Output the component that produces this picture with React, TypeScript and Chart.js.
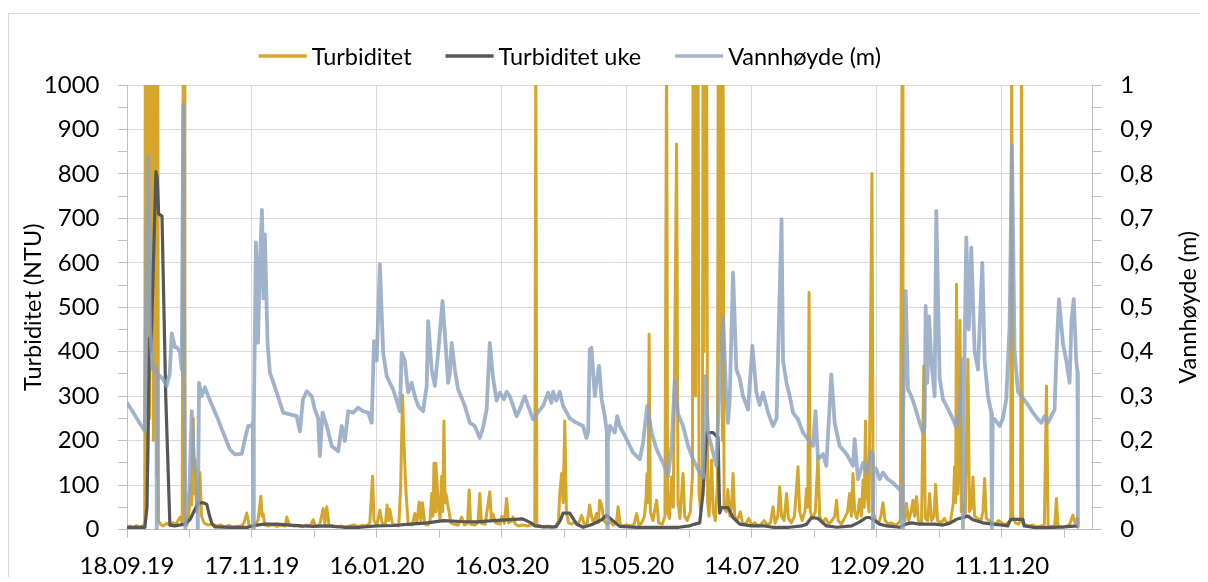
import { useEffect, useRef } from 'react';
import { Chart, registerables } from 'chart.js';
Chart.register(...registerables);

// x = days since 18.09.19
const xTickLabels = ['18.09.19', '17.11.19', '16.01.20', '16.03.20', '15.05.20', '14.07.20', '12.09.20', '11.11.20'];
const X_MAX = 463.7;

const seriesLabels = ['Turbiditet', 'Turbiditet uke', 'Vannhøyde (m)'];
const leftTitle = 'Turbiditet (NTU)';
const rightTitle = 'Vannhøyde (m)';

const turbiditet: [number, number][] = [
  [0,5],[1.5,8],[3,4],[4.5,9],[6,5],[7.5,8],[8.5,12],
  [8.8,1100],[9.1,500],[9.4,1100],[9.7,150],[10,1100],[10.3,650],[10.6,1100],[10.9,250],[11.2,1100],[11.5,450],[11.8,1100],[12.1,800],[12.4,1100],[12.7,200],[13,1100],[13.3,600],[13.6,1100],[13.9,350],[14.2,1100],[14.5,120],[14.8,1100],[15.1,20],
  [16,12],[17.5,8],[19,14],[20.5,10],[22,15],[23.5,12],[24.5,20],[25.5,28],[26.5,14],
  [27,1100],[27.4,1100],[27.8,25],
  [28.8,10],[29.8,40],[30.6,100],[31.1,55],[31.8,250],[32.3,80],[32.7,158],[33.4,40],[34.1,60],[35,128],[35.8,30],[37,15],[39,10],[41,12],[43,8],[45,10],[47,6],[49,9],[51,5],[53,7],[55,8],[56.2,15],[57.5,37],[58.6,10],[60,8],[61.5,12],[62.9,20],[64.3,75],[64.8,30],[65.4,35],[66.2,10],[68,8],[70,11],[72,7],[74,10],[76,8],[76.7,28],[78,10],[80,8],[82,9],[84,6],[86,10],[88,8],[89.4,22],[90.5,8],[92.5,10],[94.2,47],[95,12],[95.9,51],[97,10],[99,8],[101,6],[103,8],[105,5],[107,8],[109,10],[111,7],[113,9],[115,8],[116.6,15],[117.9,120],[118.6,20],[120,10],[121.4,44],[122.5,15],[124,10],[124.9,55],[125.6,20],[126.2,45],[127.5,12],[129,10],[130.5,8],[131.4,96],[132.3,302],[133,195],[133.9,89],[135,12],[137,10],[138.2,36],[139.2,15],[140.3,62],[141.1,20],[141.9,60],[143,12],[144.5,10],[145.5,20],[146.3,81],[146.9,30],[147.4,149],[147.9,40],[148.3,149],[149.4,66],[150.3,20],[151.1,120],[151.6,40],[152.2,244],[152.7,60],[153.1,81],[154.2,51],[155.5,15],[157,12],[159,10],[160.7,28],[162,10],[163.5,14],[164.3,89],[165,12],[167,10],[168.5,15],[169.4,81],[170.2,14],[172,12],[174.2,85],[175,20],[175.7,35],[177,15],[179,12],[180,30],[181.2,14],[182.3,70],[183.2,15],[185,20],[185.3,28],[186.5,12],[188,8],[190,10],[192,8],[194,10],[195.8,12],[196.3,1100],[196.8,10],[198.5,8],[200,6],[202,8],[204,5],[206,7],[207.2,20],[207.8,81],[208.7,126],[209.4,60],[210.2,244],[211,40],[212,15],[213.5,12],[215,18],[216.5,10],[218.3,32],[219.5,12],[221,15],[222.2,55],[223,30],[224,14],[225.5,36],[226.3,15],[227,66],[227.9,55],[229,20],[230.5,12],[232,18],[233.5,10],[235,15],[235.8,51],[236.8,12],[238,8],[240,10],[242,8],[243.5,12],[244.7,36],[245.8,10],[247,14],[248.5,30],[249.2,70],[249.7,126],[250.2,60],[250.7,439],[251.3,40],[252.5,20],[254.3,66],[255.3,15],[257,12],[258.3,30],[259.1,1100],[259.6,40],[260.5,25],[261.5,118],[262.3,50],[263.9,867],[264.6,60],[265.5,25],[267,126],[267.8,30],[269,20],[270.5,40],[271.5,120],[271.8,1100],[272.2,500],[272.6,1100],[273,300],[273.4,1100],[273.8,600],[274.2,1100],[274.7,80],[275.5,40],[276.3,150],[276.6,1100],[277,400],[277.4,1100],[277.8,700],[278.3,1100],[278.8,60],[279.5,30],[280.7,156],[281.5,40],[282.5,20],[283.5,100],[283.9,1100],[284.3,400],[284.7,1100],[285.1,800],[285.5,1100],[285.9,200],[286.2,1100],[286.7,50],[287.8,40],[288.5,90],[289.5,30],[290.3,50],[291,126],[291.8,30],[293,20],[294.5,40],[295.5,15],[297,12],[298.5,25],[300,10],[301.5,15],[303,8],[304.5,12],[306,20],[307.5,10],[309,15],[310.2,51],[311.2,14],[312.5,30],[313.4,96],[314.3,30],[315.5,20],[316.7,81],[317.6,25],[319,15],[320.5,30],[322.2,141],[323,40],[324.2,20],[325.5,40],[326.3,92],[326.9,50],[327.5,533],[328.1,40],[329.2,25],[330.5,40],[331.8,165],[332.6,30],[334,15],[335.5,25],[337,12],[338.5,20],[339.8,30],[340.7,66],[341.5,20],[343,12],[344.5,25],[346,40],[347,81],[347.8,30],[348.6,126],[349.4,40],[350.5,25],[351.8,68],[352.6,30],[353.4,111],[354,50],[354.6,244],[355.3,80],[356.3,40],[357.7,801],[358.3,40],[359.5,20],[361,15],[362,30],[363,60],[364,20],[365.5,12],[367,15],[368.5,10],[370,12],[371.3,20],[372.2,1100],[372.6,30],[373.5,20],[374.3,59],[375.3,20],[376.5,40],[377.4,66],[378.2,30],[379.1,74],[380,20],[381.5,15],[382.6,368],[383.3,25],[384.5,20],[385.4,81],[386.3,20],[387.5,30],[388.3,101],[389.2,20],[391,15],[392.5,25],[394,12],[395.5,20],[396.8,60],[397.4,141],[397.9,60],[398.3,552],[398.9,80],[399.4,150],[400,470],[400.6,40],[401.5,60],[402.5,30],[403.8,383],[404.5,40],[405.5,50],[406.2,118],[407,30],[408.5,25],[410,20],[411,40],[411.8,115],[412.6,25],[414,20],[415.5,15],[417,12],[418.5,20],[420,15],[421.5,10],[423,15],[424.3,20],[424.8,1100],[425.3,30],[426.5,15],[428,12],[429.1,20],[429.5,1100],[430,15],[431.5,10],[433,8],[435,10],[437,6],[439,8],[440.5,10],[441.5,323],[442.3,8],[444,6],[445.5,10],[446.3,70],[447,8],[449,5],[451,7],[452.5,10],[454.2,32],[455.2,15],[456.2,25],[456.6,5]
];

const turbiditetUke: [number, number][] = [
  [0,5],[4,5],[8.6,5],[9.6,50],[10.8,430],[11.5,400],[13.9,805],[14.5,790],[15.2,710],[16.8,705],[18.6,300],[20.6,10],[23,8],[27.8,12],[30.2,22],[32.6,45],[34.1,60],[36.5,60],[38.3,57],[39.4,35],[40.7,14],[42.2,6],[50,5],[58,5],[62.4,10],[66,12],[72,12],[78,10],[84,8],[90,7],[96,8],[104,5],[112,5],[120,8],[128,9],[136,12],[144,15],[152,20],[160,18],[168,17],[176,20],[184,22],[190,24],[194,15],[196,8],[200,6],[206,6],[208,20],[209.4,37],[212.6,37],[215.9,12],[219,5],[223.7,12],[227.9,22],[230.3,32],[233.3,20],[236.6,7],[245,5],[255,5],[265,5],[270,8],[271.8,11],[275,15],[276.6,83],[278.3,218],[281.4,218],[283.8,207],[284.6,37],[285.5,49],[288.6,49],[291,27],[294.2,12],[300,8],[306,8],[310,5],[318,5],[324,8],[326.3,12],[328.7,27],[331.7,25],[335.9,8],[341,5],[348,8],[351.8,17],[355,27],[356.6,27],[359,20],[361.4,12],[364.7,8],[371,5],[373.9,12],[376.6,15],[380.6,12],[383.9,12],[387.8,12],[391.8,10],[395,14],[398.3,23],[401.5,27],[403.8,30],[406.2,22],[411,15],[415.7,12],[420.5,10],[422.9,8],[424.3,23],[430.2,23],[430.8,8],[435,5],[440,4],[445,5],[450,6],[456.5,8]
];

const vannhoyde: [number, number][] = [
  [0,0.285],[3,0.263],[6,0.24],[8.6,0.221],[9.5,0.72],[9.8,0.55],[10.2,0.84],[11,0.46],[12.3,0.36],[13.4,0.37],[14.1,0.36],[14.3,0],[14.6,0.35],[17.4,0.338],[19,0.323],[20.5,0.35],[21.5,0.441],[23,0.41],[23.9,0.41],[25.4,0.40],[26.3,0.36],[27,0.956],[27.6,0.3],[28,0],[28.5,0.05],[29.9,0.083],[31.1,0.266],[32.2,0.14],[33.6,0.12],[34,0],[34.6,0.33],[35.9,0.30],[37.4,0.32],[39,0.30],[43.1,0.255],[46.2,0.218],[49.4,0.18],[51.8,0.169],[55.1,0.17],[56.6,0.203],[58.2,0.233],[59.9,0.233],[60.4,0.24],[60.6,0],[60.9,0.25],[61.9,0.646],[62.9,0.42],[63.8,0.6],[64.8,0.719],[65.5,0.52],[66.2,0.664],[67.5,0.42],[68.6,0.353],[71.9,0.308],[75,0.263],[78.2,0.259],[81.5,0.255],[83,0.221],[84.5,0.293],[86.3,0.311],[88.7,0.30],[90.2,0.27],[91.8,0.25],[92.6,0.165],[93.9,0.263],[95.9,0.233],[98.3,0.188],[101.4,0.176],[103.1,0.233],[104.6,0.199],[106.2,0.266],[108.6,0.263],[111,0.274],[113.4,0.266],[115.8,0.263],[117.5,0.24],[118.6,0.424],[119.9,0.38],[121.4,0.597],[123,0.398],[124.7,0.345],[126.2,0.33],[127.8,0.315],[129.5,0.29],[131,0.266],[131.9,0.398],[133.4,0.38],[135,0.308],[136.7,0.33],[138.2,0.30],[139.8,0.278],[142.2,0.266],[143.9,0.323],[144.6,0.469],[146.3,0.36],[147.8,0.323],[149.4,0.398],[151.5,0.514],[152.6,0.443],[154.2,0.33],[155,0.353],[155.9,0.42],[157.4,0.36],[159,0.315],[160.7,0.296],[162.2,0.278],[164.6,0.24],[167,0.233],[169.4,0.206],[171,0.23],[172.7,0.27],[174.2,0.42],[175.8,0.34],[177.5,0.29],[179,0.308],[181,0.293],[182.3,0.31],[183.8,0.30],[185.4,0.278],[187.1,0.255],[188.6,0.27],[191,0.30],[192.6,0.278],[195,0.248],[196.7,0.26],[199.8,0.278],[202.2,0.308],[203.8,0.285],[204.6,0.31],[206.2,0.29],[207.8,0.31],[209.4,0.278],[212.6,0.25],[215.9,0.24],[219,0.233],[220.6,0.206],[221.4,0.218],[222.2,0.405],[223,0.409],[224.6,0.30],[225.4,0.33],[226.7,0.368],[227.9,0.293],[229.4,0.255],[230.4,0.22],[230.6,0],[230.9,0.2],[231.8,0.233],[234.2,0.218],[235.4,0.255],[236.6,0.233],[239.9,0.203],[243,0.173],[246.2,0.158],[247.8,0.195],[249.8,0.278],[251.9,0.218],[254.3,0.18],[257.4,0.15],[259.8,0.12],[261.5,0.188],[263,0.334],[264.6,0.26],[267,0.233],[269.4,0.188],[271.8,0.158],[275,0.128],[276.6,0.117],[277.8,0.345],[279,0.218],[280.6,0.188],[283,0.143],[284.6,0.338],[286.2,0.477],[287.8,0.293],[288.6,0.24],[289.4,0.293],[291,0.578],[292.6,0.36],[294.2,0.34],[295.8,0.30],[298.2,0.27],[300.3,0.413],[302.2,0.308],[303.8,0.28],[305.4,0.308],[307.8,0.263],[310.2,0.233],[311.9,0.25],[313.1,0.48],[314.3,0.698],[315,0.38],[316.7,0.33],[318.2,0.30],[319.8,0.263],[322.2,0.248],[324.6,0.218],[327,0.203],[329.4,0.188],[330.6,0.266],[331.8,0.158],[334.2,0.17],[335.8,0.143],[338.2,0.349],[339.8,0.24],[342.2,0.188],[345.5,0.17],[348.6,0.143],[349.4,0.203],[351,0.113],[353.4,0.15],[355,0.128],[357.5,0.176],[358,0.17],[358.2,0],[358.5,0.14],[359.9,0.135],[361.4,0.113],[363,0.128],[365.4,0.113],[367.8,0.105],[371,0.09],[371.9,0.083],[372.2,0],[372.6,0.24],[373.9,0.537],[375,0.315],[376.6,0.30],[378.2,0.278],[380.6,0.24],[382.2,0.218],[383,0.23],[383.5,0.503],[384.3,0.33],[385.1,0.48],[386.2,0.38],[387.8,0.30],[388.6,0.717],[390.2,0.34],[391.8,0.293],[393.5,0.278],[396.6,0.248],[398.2,0.23],[399.8,0.27],[401.1,0.383],[401.4,0],[401.7,0.25],[403,0.657],[404.2,0.45],[405.4,0.634],[407,0.40],[408.6,0.36],[410.7,0.60],[411.8,0.38],[413.4,0.30],[415,0.263],[415.3,0],[415.7,0.25],[416.6,0.248],[419,0.233],[420.6,0.25],[422.2,0.293],[423.8,0.458],[424.9,0.865],[426.2,0.40],[427.8,0.31],[429.5,0.30],[431.9,0.285],[435,0.263],[437.4,0.248],[439,0.24],[440.6,0.255],[442.2,0.24],[443.8,0.255],[445.4,0.27],[446.2,0.383],[447.5,0.518],[449.4,0.42],[451,0.38],[452.6,0.33],[453.5,0.47],[454.6,0.518],[455.8,0.38],[456.4,0.353],[456.6,0.01]
];

const FONT = 'Lato, "Open Sans", sans-serif';
const TEXT = '#000000';
const GRID = '#d9d9d9';
const AXIS = '#bfbfbf';
const GOLD = '#d4a62c';
const DARK = '#575757';
const BLUE = 'rgba(140,162,192,0.82)';
const CLEAR = 'rgba(0,0,0,0)';
const TICK_SIZE = 24;
const LEGEND_SIZE = 23.5;
const TITLE_SIZE = 23.5;

const toXY = (arr: [number, number][]) => arr.map(([x, y]) => ({ x, y }));

const decorPlugin = {
  id: 'decor',
  afterDraw(chart: any) {
    const { ctx, chartArea: a } = chart;
    ctx.save();
    ctx.fillStyle = TEXT;
    ctx.textBaseline = 'middle';
    ctx.textAlign = 'center';
    ctx.font = `${TITLE_SIZE}px ${FONT}`;
    const midY = (a.top + a.bottom) / 2;
    const titles: [number, string][] = [[a.left - 94, leftTitle], [a.right + 95.3, rightTitle]];
    titles.forEach(([x, t]) => {
      ctx.save();
      ctx.translate(x, midY);
      ctx.rotate(-Math.PI / 2);
      ctx.fillText(t, 0, 0);
      ctx.restore();
    });
    // legend
    ctx.font = `${LEGEND_SIZE}px ${FONT}`;
    ctx.textAlign = 'left';
    const ds = chart.data.datasets;
    const LINE = 48, GAP = 5, ITEM_GAP = 34;
    const widths = ds.map((d: any) => ctx.measureText(d.label).width);
    const total = widths.reduce((s: number, w: number) => s + LINE + GAP + w, 0) + ITEM_GAP * (ds.length - 1);
    let x = (a.left + a.right) / 2 - 40 - total / 2;
    const y = a.top - 29;
    ds.forEach((d: any, i: number) => {
      ctx.strokeStyle = d.borderColor;
      ctx.lineWidth = 3.5;
      ctx.beginPath();
      ctx.moveTo(x, y);
      ctx.lineTo(x + LINE, y);
      ctx.stroke();
      x += LINE + GAP;
      ctx.fillText(d.label, x, y + 1);
      x += widths[i] + ITEM_GAP;
    });
    ctx.restore();
  },
};

export default function App() {
  const ref = useRef<HTMLCanvasElement>(null);
  useEffect(() => {
    const canvas = ref.current!;
    const tickFont = { family: FONT, size: TICK_SIZE };
    const chart = new Chart(canvas, {
      type: 'line',
      data: {
        datasets: [
          { label: seriesLabels[0], data: toXY(turbiditet), borderColor: GOLD, backgroundColor: GOLD, borderWidth: 3, yAxisID: 'y', order: 3, clip: 0 } as any,
          { label: seriesLabels[1], data: toXY(turbiditetUke), borderColor: DARK, backgroundColor: DARK, borderWidth: 3.2, yAxisID: 'y', order: 2, clip: 0 } as any,
          { label: seriesLabels[2], data: toXY(vannhoyde), borderColor: BLUE, backgroundColor: BLUE, borderWidth: 3.8, yAxisID: 'y2', order: 1, clip: 0 } as any,
        ],
      },
      options: {
        responsive: false,
        animation: false,
        devicePixelRatio: 1,
        layout: { padding: { top: 71, left: 0, right: 0, bottom: 0 } },
        plugins: { legend: { display: false }, tooltip: { enabled: false } },
        elements: {
          point: { radius: 0, hitRadius: 0, hoverRadius: 0 },
          line: { tension: 0, borderJoinStyle: 'round', borderCapStyle: 'butt' },
        },
        scales: {
          x: {
            type: 'linear',
            min: 0,
            max: X_MAX,
            afterFit: (s: any) => { s.height = 52.5; },
            border: { color: AXIS, width: 1 },
            grid: {
              color: (c: any) => (c.tick && c.tick.value % 60 === 0 ? GRID : CLEAR),
              tickColor: AXIS,
              tickLength: 8,
              lineWidth: 1,
            },
            ticks: {
              stepSize: 30,
              includeBounds: false,
              autoSkip: false,
              maxRotation: 0,
              padding: 14,
              font: tickFont,
              color: TEXT,
              callback: (v: any) => (v % 60 === 0 ? xTickLabels[v / 60] ?? '' : ''),
            },
          },
          y: {
            position: 'left',
            min: 0,
            max: 1000,
            afterFit: (s: any) => { s.width = 118; },
            border: { color: AXIS, width: 1 },
            grid: {
              color: (c: any) => (c.tick && c.tick.value % 100 === 0 ? GRID : CLEAR),
              tickColor: AXIS,
              tickLength: 9,
              lineWidth: 1,
            },
            ticks: {
              stepSize: 50,
              autoSkip: false,
              padding: 18.5,
              font: tickFont,
              color: TEXT,
              callback: (v: any) => (v % 100 === 0 ? String(v) : ''),
            },
          },
          y2: {
            position: 'right',
            min: 0,
            max: 1,
            afterFit: (s: any) => { s.width = 115.3; },
            border: { color: AXIS, width: 1 },
            grid: { drawOnChartArea: false, tickColor: AXIS, tickLength: 9, lineWidth: 1 },
            ticks: {
              stepSize: 0.05,
              autoSkip: false,
              padding: 18.5,
              font: tickFont,
              color: TEXT,
              callback: (v: any) => {
                const n = Math.round(v * 100);
                if (n % 10 !== 0) return '';
                if (n === 0) return '0';
                if (n === 100) return '1';
                return (n / 100).toFixed(1).replace('.', ',');
              },
            },
          },
        },
      } as any,
      plugins: [decorPlugin],
    });
    return () => chart.destroy();
  }, []);
  return (
    <>
      <style>{'html,body{overflow:hidden}'}</style>
      <div
        style={{
          position: 'relative',
          top: 5,
          width: 1200,
          height: 569,
          borderTop: '1px solid #d9d9d9',
          borderLeft: '1px solid #d9d9d9',
          boxSizing: 'border-box',
          background: '#fff',
        }}
      >
        <canvas ref={ref} width={1199} height={568} style={{ display: 'block', width: 1199, height: 568 }} />
      </div>
    </>
  );
}
